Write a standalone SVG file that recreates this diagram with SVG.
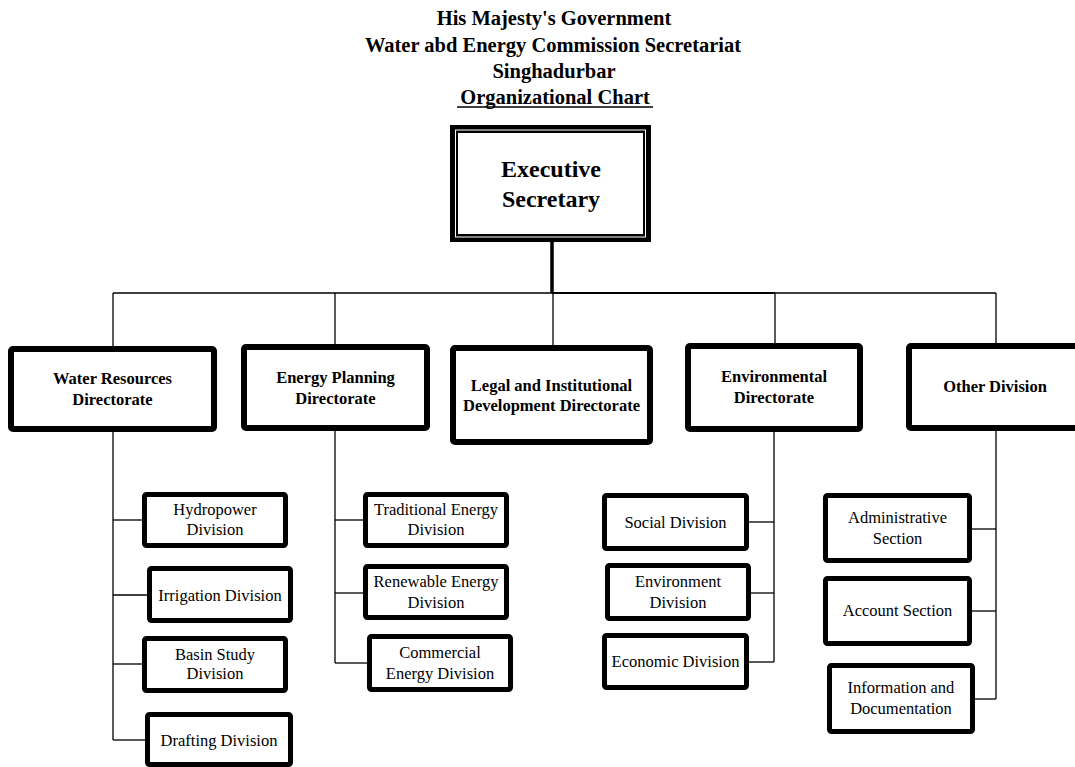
<svg xmlns="http://www.w3.org/2000/svg" width="1075" height="767" viewBox="0 0 1075 767">
  <style>
    text { font-family: "Liberation Serif", "Times New Roman", serif; fill: #000; text-anchor: middle; }
    .title { font-size: 20.5px; font-weight: bold; }
    .exec { font-size: 24px; font-weight: bold; }
    .dir { font-size: 16.5px; font-weight: bold; }
    .div { font-size: 16.5px; }
    .dirbox { fill: #fff; stroke: #000; stroke-width: 6; }
    .divbox { fill: #fff; stroke: #000; stroke-width: 5; }
    .conn line { stroke: #000; stroke-width: 1.3; }
  </style>
  <rect width="1075" height="767" fill="#fff"/>

  <!-- Heading -->
  <g id="heading">
    <text class="title" x="554" y="25">His Majesty's Government</text>
    <text class="title" x="553" y="52">Water abd Energy Commission Secretariat</text>
    <text class="title" x="554" y="78">Singhadurbar</text>
    <text class="title" x="555" y="104">Organizational Chart</text>
    <line x1="457" y1="107" x2="653" y2="107" stroke="#000" stroke-width="1.5"/>
  </g>

  <!-- Connectors -->
  <g id="connectors" class="conn">
    <line x1="552" y1="242" x2="552" y2="293" style="stroke-width:3.5"/>
    <line x1="113" y1="293" x2="552" y2="293"/>
    <line x1="552" y1="293" x2="775" y2="293" style="stroke-width:2"/>
    <line x1="775" y1="293" x2="996" y2="293"/>
    <line x1="113" y1="293" x2="113" y2="346"/>
    <line x1="335" y1="293" x2="335" y2="344"/>
    <line x1="553" y1="293" x2="553" y2="345"/>
    <line x1="775" y1="293" x2="775" y2="343"/>
    <line x1="996" y1="293" x2="996" y2="343"/>

    <line x1="113" y1="432" x2="113" y2="740"/>
    <line x1="113" y1="520" x2="142" y2="520"/>
    <line x1="113" y1="595" x2="147" y2="595"/>
    <line x1="113" y1="664" x2="142" y2="664"/>
    <line x1="113" y1="740" x2="145" y2="740"/>

    <line x1="335" y1="431" x2="335" y2="663"/>
    <line x1="335" y1="520" x2="363" y2="520"/>
    <line x1="335" y1="593" x2="363" y2="593"/>
    <line x1="335" y1="663" x2="367" y2="663"/>

    <line x1="774" y1="432" x2="774" y2="662"/>
    <line x1="749" y1="522" x2="774" y2="522"/>
    <line x1="751" y1="593" x2="774" y2="593"/>
    <line x1="749" y1="662" x2="774" y2="662"/>

    <line x1="996" y1="431" x2="996" y2="699"/>
    <line x1="972" y1="529" x2="996" y2="529"/>
    <line x1="972" y1="611" x2="996" y2="611"/>
    <line x1="975" y1="699" x2="996" y2="699"/>
  </g>

  <!-- Top node: heavy frame with a thin white inset line -->
  <g id="executive-secretary">
    <rect x="454" y="129" width="193" height="109" fill="#fff" stroke="#000" stroke-width="8"/>
    <rect x="455.5" y="130" width="190" height="107" fill="none" stroke="#fff" stroke-width="1"/>
    <text class="exec" x="551" y="177">Executive</text>
    <text class="exec" x="551" y="207">Secretary</text>
  </g>

  <!-- Directorates -->
  <g id="water-resources">
    <rect class="dirbox" x="11" y="349" width="203" height="80" rx="2"/>
    <text class="dir" x="112.5" y="384">Water Resources</text>
    <text class="dir" x="112.5" y="405">Directorate</text>
  </g>
  <g id="energy-planning">
    <rect class="dirbox" x="244" y="347" width="183" height="81" rx="2"/>
    <text class="dir" x="335.5" y="383">Energy Planning</text>
    <text class="dir" x="335.5" y="404">Directorate</text>
  </g>
  <g id="legal-institutional">
    <rect class="dirbox" x="453" y="348" width="197" height="94" rx="2"/>
    <text class="dir" x="551.5" y="391">Legal and Institutional</text>
    <text class="dir" x="551.5" y="411">Development Directorate</text>
  </g>
  <g id="environmental">
    <rect class="dirbox" x="688" y="346" width="172" height="83" rx="2"/>
    <text class="dir" x="774" y="382">Environmental</text>
    <text class="dir" x="774" y="403">Directorate</text>
  </g>
  <g id="other-division">
    <rect class="dirbox" x="909" y="346" width="172" height="82" rx="2"/>
    <text class="dir" x="995" y="392">Other Division</text>
  </g>

  <!-- Water Resources divisions -->
  <g id="hydropower">
    <rect class="divbox" x="144.5" y="494.5" width="141" height="51" rx="2"/>
    <text class="div" x="215" y="515">Hydropower</text>
    <text class="div" x="215" y="535">Division</text>
  </g>
  <g id="irrigation">
    <rect class="divbox" x="149.5" y="568.5" width="141" height="52" rx="2"/>
    <text class="div" x="220" y="601">Irrigation Division</text>
  </g>
  <g id="basin-study">
    <rect class="divbox" x="144.5" y="638.5" width="141" height="52" rx="2"/>
    <text class="div" x="215" y="660">Basin Study</text>
    <text class="div" x="215" y="679">Division</text>
  </g>
  <g id="drafting">
    <rect class="divbox" x="147.5" y="714.5" width="143" height="50" rx="2"/>
    <text class="div" x="219" y="746">Drafting Division</text>
  </g>

  <!-- Energy Planning divisions -->
  <g id="traditional-energy">
    <rect class="divbox" x="365.5" y="494.5" width="141" height="51" rx="2"/>
    <text class="div" x="436" y="515">Traditional Energy</text>
    <text class="div" x="436" y="535">Division</text>
  </g>
  <g id="renewable-energy">
    <rect class="divbox" x="365.5" y="566.5" width="141" height="51" rx="2"/>
    <text class="div" x="436" y="587">Renewable Energy</text>
    <text class="div" x="436" y="608">Division</text>
  </g>
  <g id="commercial-energy">
    <rect class="divbox" x="369.5" y="636.5" width="141" height="53" rx="2"/>
    <text class="div" x="440" y="658">Commercial</text>
    <text class="div" x="440" y="679">Energy Division</text>
  </g>

  <!-- Environmental divisions -->
  <g id="social">
    <rect class="divbox" x="604.5" y="495.5" width="142" height="53" rx="2"/>
    <text class="div" x="675.5" y="528">Social Division</text>
  </g>
  <g id="environment">
    <rect class="divbox" x="607.5" y="565.5" width="141" height="53" rx="2"/>
    <text class="div" x="678" y="587">Environment</text>
    <text class="div" x="678" y="608">Division</text>
  </g>
  <g id="economic">
    <rect class="divbox" x="604.5" y="635.5" width="142" height="52" rx="2"/>
    <text class="div" x="675.5" y="667">Economic Division</text>
  </g>

  <!-- Other sections -->
  <g id="administrative">
    <rect class="divbox" x="825.5" y="495.5" width="144" height="65" rx="2"/>
    <text class="div" x="897.5" y="523">Administrative</text>
    <text class="div" x="897.5" y="544">Section</text>
  </g>
  <g id="account">
    <rect class="divbox" x="825.5" y="578.5" width="144" height="65" rx="2"/>
    <text class="div" x="897.5" y="616">Account Section</text>
  </g>
  <g id="information">
    <rect class="divbox" x="829.5" y="665.5" width="143" height="66" rx="2"/>
    <text class="div" x="901" y="693">Information and</text>
    <text class="div" x="901" y="714">Documentation</text>
  </g>
</svg>
